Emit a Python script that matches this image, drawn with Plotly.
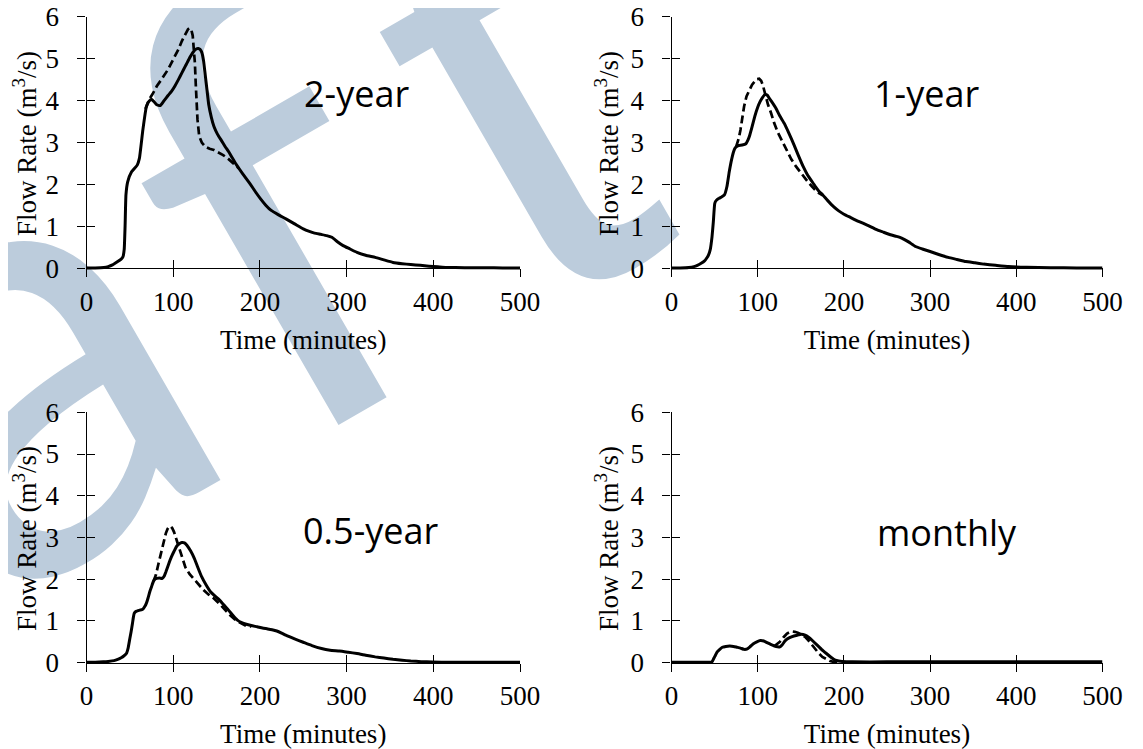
import plotly.graph_objects as go

# ---------------- data ----------------
x_ticks = [0, 100, 200, 300, 400, 500]
y_ticks = [0, 1, 2, 3, 4, 5, 6]
panel_labels = ["2-year", "1-year", "0.5-year", "monthly"]

# 2-year
t_2yr = [0, 10, 20, 25, 30, 36, 40, 42, 43.5, 44.5, 45.5, 47.5, 52, 58.5, 61, 65, 69, 72, 75, 78,
         81, 85, 89.5, 94, 98, 102, 106, 110, 114, 118, 122.5, 126.5, 129, 131, 133, 135, 137, 139,
         141, 144, 147, 151, 155.5, 160, 164, 168, 172, 180, 188.5, 195, 201, 207, 213, 221, 230,
         240, 250, 257, 263, 270, 277, 283, 289, 296, 304, 312, 322, 333, 343, 353.5, 364, 374,
         385, 395, 405, 415, 436, 460, 480, 500]
q_2yr = [0.01, 0.01, 0.02, 0.04, 0.08, 0.16, 0.22, 0.27, 0.45, 1.0, 1.75, 2.06, 2.3, 2.46, 2.62,
         3.3, 3.85, 3.98, 4.03, 3.97, 3.9, 3.88, 4.0, 4.12, 4.22, 4.35, 4.5, 4.66, 4.82, 4.98, 5.14,
         5.23, 5.24, 5.22, 5.15, 4.95, 4.6, 4.25, 3.9, 3.6, 3.38, 3.2, 3.05, 2.9, 2.78, 2.64, 2.5,
         2.26, 2.02, 1.82, 1.65, 1.5, 1.38, 1.28, 1.18, 1.06, 0.94, 0.88, 0.84, 0.81, 0.78, 0.74,
         0.64, 0.54, 0.46, 0.38, 0.31, 0.26, 0.2, 0.14, 0.11, 0.09, 0.07, 0.05, 0.035, 0.02, 0.015,
         0.012, 0.01, 0.01]
t_2yr_alt = [68, 72, 76, 81, 87, 94, 100, 106, 110, 114, 117, 119, 121, 122.5, 124, 125, 126, 127,
             128, 130, 133, 137, 142, 147, 152, 157.6, 163, 168, 172, 176]
q_2yr_alt = [3.8, 4.02, 4.15, 4.34, 4.52, 4.74, 4.98, 5.22, 5.42, 5.6, 5.7, 5.73, 5.68, 5.55, 5.25,
             4.9, 4.4, 3.9, 3.55, 3.15, 3.0, 2.9, 2.85, 2.82, 2.77, 2.7, 2.62, 2.52, 2.45, 2.38]

# 1-year
t_1yr = [0, 10, 20, 26, 30, 34.4, 38, 40.7, 43, 45, 47, 48.5, 50.2, 52, 55.2, 58, 61.4, 64.3, 67,
         69.7, 72, 73.9, 76, 78, 82, 86.3, 88.5, 90.4, 93.5, 96.7, 99.8, 102.9, 105.5, 108.3, 111,
         113.3, 117, 121, 125.7, 131, 136, 142, 147, 152.7, 158, 163, 167, 171, 175.5, 181, 188,
         194, 200, 208, 217, 227, 238, 246, 254, 261, 267, 275, 283, 291, 300, 310, 321, 331,
         341.5, 352, 362, 376, 391, 412, 440, 470, 500]
q_1yr = [0.01, 0.01, 0.02, 0.04, 0.07, 0.12, 0.17, 0.24, 0.32, 0.45, 0.75, 1.1, 1.55, 1.62, 1.67,
         1.7, 1.75, 1.95, 2.3, 2.59, 2.78, 2.87, 2.91, 2.93, 2.94, 2.97, 3.05, 3.15, 3.38, 3.63,
         3.83, 3.98, 4.07, 4.14, 4.13, 4.06, 3.95, 3.82, 3.63, 3.45, 3.23, 2.95, 2.7, 2.43, 2.22,
         2.07, 1.95, 1.84, 1.75, 1.62, 1.47, 1.37, 1.29, 1.21, 1.12, 1.03, 0.92, 0.86, 0.8, 0.76,
         0.72, 0.63, 0.52, 0.46, 0.4, 0.33, 0.26, 0.21, 0.16, 0.13, 0.1, 0.07, 0.04, 0.025, 0.015,
         0.01, 0.01]
t_1yr_alt = [75, 78, 80, 84.2, 87, 90.4, 93.5, 96.7, 99, 101.7, 104, 105.8, 107.5, 109.1, 112,
             115.4, 119, 123.6, 129, 134, 139, 144.4, 150, 154.8, 159, 163, 169, 175.5]
q_1yr_alt = [2.9, 3.1, 3.3, 3.86, 4.1, 4.26, 4.38, 4.46, 4.51, 4.52, 4.47, 4.38, 4.25, 4.1, 3.9,
             3.71, 3.47, 3.23, 3.0, 2.79, 2.6, 2.43, 2.27, 2.15, 2.04, 1.95, 1.82, 1.74]

# 0.5-year
t_05yr = [0, 10, 19.4, 25, 31.8, 36, 40, 43, 46, 48, 50, 51.5, 53, 54, 55, 56.5, 58.6, 61.5, 64.8,
          67, 69, 71, 73, 75, 77, 79, 81, 84, 87.5, 89.5, 91.6, 94.5, 97.8, 101, 104, 107, 110, 113,
          116, 120, 124.6, 128.5, 132.8, 138, 143, 148, 153.5, 158.5, 163.8, 169, 174, 179, 184.4,
          190, 196.8, 203, 209, 214, 219.5, 225, 229.8, 240, 250, 260, 271, 281, 291.7, 302, 312,
          322, 333, 343, 353.5, 364, 374, 386, 399, 420, 450, 500]
q_05yr = [0.01, 0.01, 0.02, 0.03, 0.05, 0.08, 0.12, 0.16, 0.22, 0.35, 0.58, 0.75, 0.94, 1.08, 1.18,
          1.22, 1.24, 1.26, 1.28, 1.34, 1.42, 1.55, 1.7, 1.82, 1.94, 2.0, 2.02, 2.03, 2.02, 2.07,
          2.18, 2.35, 2.53, 2.67, 2.79, 2.85, 2.88, 2.87, 2.81, 2.68, 2.49, 2.28, 2.06, 1.86, 1.7,
          1.6, 1.5, 1.38, 1.26, 1.13, 1.02, 0.96, 0.92, 0.89, 0.86, 0.83, 0.81, 0.79, 0.76, 0.71,
          0.66, 0.57, 0.49, 0.41, 0.34, 0.3, 0.28, 0.25, 0.22, 0.18, 0.14, 0.11, 0.08, 0.06, 0.04,
          0.025, 0.016, 0.01, 0.01, 0.01]
t_05yr_alt = [77, 80, 83, 86, 89.5, 91.5, 93.6, 95.5, 97, 99, 101, 103.5, 106, 110, 114, 119,
              124.6, 130, 135, 141, 147, 153, 160, 166, 172, 178, 184, 190]
q_05yr_alt = [1.94, 2.1, 2.37, 2.65, 2.93, 3.1, 3.21, 3.26, 3.27, 3.22, 3.13, 2.97, 2.77, 2.52,
              2.29, 2.12, 1.98, 1.85, 1.74, 1.63, 1.54, 1.42, 1.26, 1.13, 1.02, 0.94, 0.88, 0.87]

# monthly
t_mon = [0, 20, 40, 47, 49, 51, 53, 56, 59, 63, 67.6, 72, 76, 80, 84, 88, 91, 94.6, 99, 103, 107,
         111, 115, 119.5, 123, 125.7, 128.5, 132, 137, 142, 146, 150.6, 155, 159, 164, 169, 174,
         179.7, 185, 190, 194, 198, 210, 250, 300, 400, 500]
q_mon = [0.01, 0.01, 0.01, 0.02, 0.1, 0.18, 0.26, 0.32, 0.37, 0.39, 0.4, 0.39, 0.37, 0.35, 0.32,
         0.33, 0.38, 0.45, 0.5, 0.53, 0.52, 0.48, 0.44, 0.4, 0.38, 0.38, 0.43, 0.53, 0.6, 0.64,
         0.66, 0.68, 0.66, 0.61, 0.52, 0.42, 0.32, 0.22, 0.13, 0.06, 0.04, 0.03, 0.02, 0.02, 0.02,
         0.02, 0.02]
t_mon_alt = [119.5, 122, 125.7, 130, 134, 137, 140, 143, 146.5, 151, 155, 159, 163, 167, 171, 175,
             179.7, 184, 188, 195]
q_mon_alt = [0.4, 0.44, 0.5, 0.61, 0.7, 0.73, 0.75, 0.74, 0.72, 0.67, 0.62, 0.53, 0.42, 0.32, 0.22,
             0.14, 0.08, 0.04, 0.02, 0.02]

# label anchor (data coords of each panel)
label_t = [311.5, 295.7, 327, 319.3]
label_q = [4.17, 4.16, 3.16, 3.13]

# watermark letters
wm_letters = ["a", "f", "t"]

# ---------------- figure ----------------
OFF = 8                      # page body margin of the html page
W, H = 1143 - OFF, 749 - OFF  # figure size so it fits the window
SERIF = "Liberation Serif, Times New Roman, serif"
SANS = "Open Sans, Noto Sans, sans-serif"
WM_COLOR = "rgb(188,204,220)"
WM_SIZE = 620
WM_ANGLE = -30

series = [
    (t_2yr, q_2yr, t_2yr_alt, q_2yr_alt),
    (t_1yr, q_1yr, t_1yr_alt, q_1yr_alt),
    (t_05yr, q_05yr, t_05yr_alt, q_05yr_alt),
    (t_mon, q_mon, t_mon_alt, q_mon_alt),
]

# pixel geometry (window pixels) of the four plot areas: (x0, x500, y6, y0)
geo = [
    (86.5, 520.0, 16.7, 268.3),
    (671.5, 1102.5, 16.7, 268.3),
    (86.5, 520.0, 412.3, 662.7),
    (671.5, 1102.5, 412.3, 662.7),
]
YMIN = -0.05


def fx(px):
    return (px - OFF) / W


def fy(py):
    return 1 - (py - OFF) / H


fig = go.Figure()
layout = dict(
    width=W, height=H,
    margin=dict(l=0, r=0, t=0, b=0, autoexpand=False),
    paper_bgcolor="white", plot_bgcolor="rgba(0,0,0,0)",
    showlegend=False,
    shapes=[], annotations=[],
)

for i, ((ts, qs, td, qd), (px0, px1, py6, py0)) in enumerate(zip(series, geo)):
    n = i + 1
    m = i + 5
    xs = "" if n == 1 else str(n)
    ppu = (py0 - py6) / 6.0
    ybot = py0 - YMIN * ppu
    xdom = [fx(px0), fx(px1)]
    ydom = [fy(ybot), fy(py6)]
    xpos = fy(py0)

    fig.add_trace(go.Scatter(x=td, y=qd, mode="lines", xaxis="x" + xs, yaxis="y" + xs,
                             line=dict(color="black", width=2.7, dash="8px,4px"),
                             hoverinfo="skip"))
    fig.add_trace(go.Scatter(x=ts, y=qs, mode="lines", xaxis="x" + xs, yaxis="y" + xs,
                             line=dict(color="black", width=3, shape="spline", smoothing=0.4),
                             hoverinfo="skip"))
    # invisible trace for the overlay axes carrying the inner half of the ticks
    fig.add_trace(go.Scatter(x=[None], y=[None], xaxis="x" + str(m), yaxis="y" + str(m),
                             hoverinfo="skip"))

    common = dict(showgrid=False, zeroline=False, fixedrange=True, color="black",
                  automargin=False)
    layout["xaxis" + xs] = dict(
        domain=xdom, range=[0, 500], anchor="free", position=xpos,
        showline=True, linecolor="black", linewidth=1.3,
        ticks="outside", ticklen=8, tickwidth=1.3, tickcolor="black",
        tickvals=x_ticks, tickfont=dict(family=SERIF, size=27, color="black"),
        ticklabelstandoff=1, ticklabeloverflow="allow",
        title=dict(text="Time (minutes)", font=dict(family=SERIF, size=27, color="black"),
                   standoff=14),
        **common)
    layout["yaxis" + xs] = dict(
        domain=ydom, range=[YMIN, 6], anchor="x" + xs,
        showline=True, linecolor="black", linewidth=1.3,
        ticks="outside", ticklen=8, tickwidth=1.3, tickcolor="black",
        tickvals=y_ticks, tickfont=dict(family=SERIF, size=27, color="black"),
        ticklabelstandoff=13, ticklabeloverflow="allow",
        title=dict(text="Flow Rate (m<sup>3</sup>/s)",
                   font=dict(family=SERIF, size=27, color="black"), standoff=3),
        **common)
    layout["xaxis" + str(m)] = dict(
        overlaying="x" + xs, range=[0, 500], anchor="free", position=xpos,
        showline=False, ticks="inside", ticklen=8, tickwidth=1.3, tickcolor="black",
        tickvals=x_ticks, showticklabels=False, **common)
    layout["yaxis" + str(m)] = dict(
        overlaying="y" + xs, range=[YMIN, 6], anchor="x" + str(m),
        showline=False, ticks="inside", ticklen=8, tickwidth=1.3, tickcolor="black",
        tickvals=y_ticks, showticklabels=False, **common)

    layout["annotations"].append(dict(
        text=panel_labels[i], x=label_t[i], y=label_q[i], xref="x" + xs, yref="y" + xs,
        showarrow=False, xanchor="center", yanchor="middle",
        font=dict(family=SANS, size=36, color="black")))

# watermark (behind everything); centres in window pixels, one font per letter
wm_pos = [(-2, 322), (253, 188), (473, 40)]
wm_fonts = ["Lato", "Lato", "Liberation Sans"]
for letter, (cx, cy), fam in zip(wm_letters, wm_pos, wm_fonts):
    layout["shapes"].append(dict(
        type="rect", xref="paper", yref="paper", layer="below",
        x0=fx(cx) - 0.0005, x1=fx(cx) + 0.0005, y0=fy(cy) - 0.0005, y1=fy(cy) + 0.0005,
        line=dict(width=0), fillcolor="rgba(0,0,0,0)",
        label=dict(text=letter, textangle=WM_ANGLE, textposition="middle center",
                   font=dict(family=fam, size=WM_SIZE, color=WM_COLOR))))

fig.update_layout(**layout)
fig.write_html("out.html")
